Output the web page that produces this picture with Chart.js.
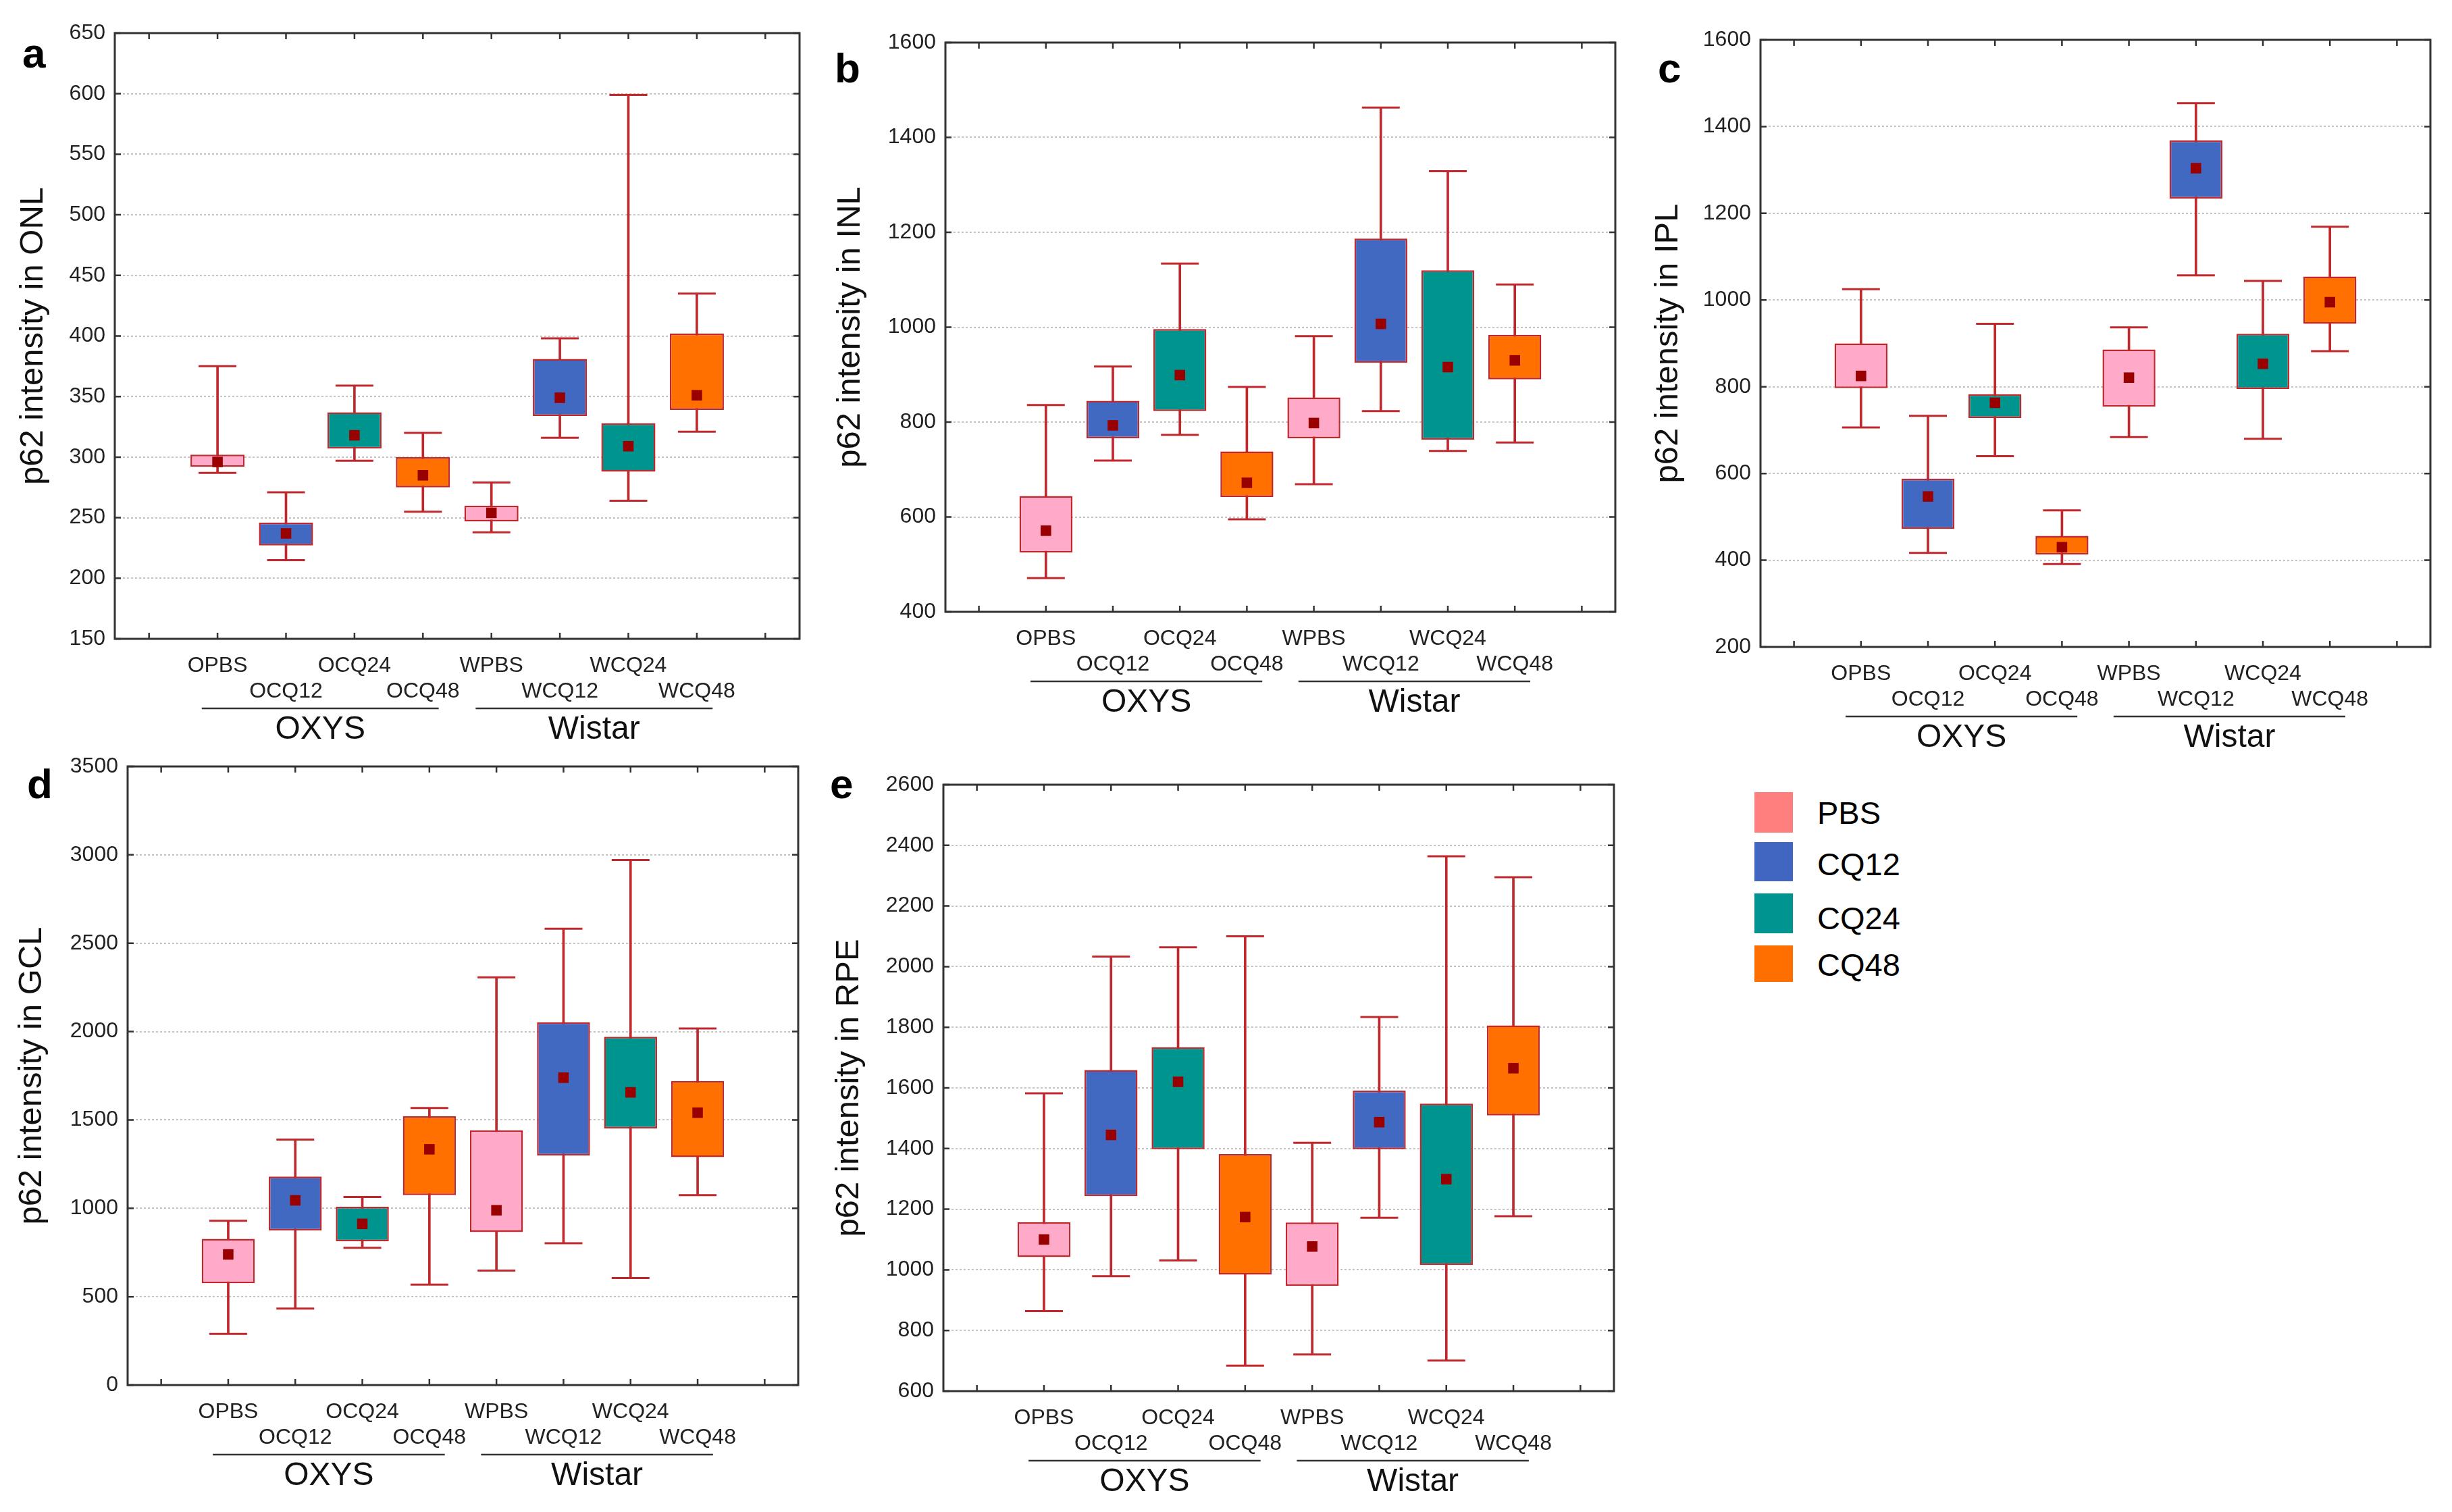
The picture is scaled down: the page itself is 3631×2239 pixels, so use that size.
<!DOCTYPE html>
<html>
<head>
<meta charset="utf-8">
<script src="https://cdn.jsdelivr.net/npm/chart.js@4.4.0/dist/chart.umd.min.js"></script>
<style>
  body { margin: 0; width: 3631px; height: 2239px; background: #fff; position: relative; overflow: hidden; font-family: 'Liberation Sans', Arial, sans-serif; }
  canvas { position: absolute; }
  .letter { position: absolute; font-weight: bold; font-size: 62px; line-height: 62px; color: #000; }
  .key { position: absolute; left: 2598px; width: 57px; }
  .keytext { position: absolute; left: 2691px; font-size: 47px; line-height: 47px; color: #000; }
</style>
</head>
<body>
<div class="letter" style="left:33px;top:48px">a</div>
<div class="letter" style="left:1236px;top:70px">b</div>
<div class="letter" style="left:2455px;top:70px">c</div>
<div class="letter" style="left:40px;top:1130px">d</div>
<div class="letter" style="left:1229px;top:1130px">e</div>

<div class="key" style="top:1173px;height:60px;background:#ff7f7f"></div>
<div class="keytext" style="top:1180px">PBS</div>
<div class="key" style="top:1247px;height:58px;background:#4166c2"></div>
<div class="keytext" style="top:1256px">CQ12</div>
<div class="key" style="top:1323px;height:59px;background:#009490"></div>
<div class="keytext" style="top:1336px">CQ24</div>
<div class="key" style="top:1400px;height:54px;background:#ff6f00"></div>
<div class="keytext" style="top:1405px">CQ48</div>

<script>
'use strict';

//---------------------- data -------------------
let groups = ['OPBS', 'OCQ12', 'OCQ24', 'OCQ48', 'WPBS', 'WCQ12', 'WCQ24', 'WCQ48'];
let strains = ['OXYS', 'Wistar'];
let treatments = ['PBS', 'CQ12', 'CQ24', 'CQ48'];

// ONL (a)
let onlMin  = [287, 215, 297, 255, 238, 316, 264, 321];
let onlQ1   = [292, 227, 307, 275, 247, 334, 288, 339];
let onlQ3   = [302, 246, 337, 300, 260, 381, 328, 402];
let onlMax  = [375, 271, 359, 320, 279, 398, 599, 435];
let onlMean = [296, 237, 318, 285, 254, 349, 309, 351];
let onlRange = [150, 650, 50];

// INL (b)
let inlMin  = [471, 719, 773, 595, 669, 823, 739, 757];
let inlQ1   = [525, 766, 823, 642, 766, 925, 763, 890];
let inlQ3   = [644, 845, 996, 738, 852, 1187, 1120, 984];
let inlMax  = [836, 917, 1134, 874, 981, 1463, 1329, 1090];
let inlMean = [571, 793, 899, 672, 798, 1007, 916, 930];
let inlRange = [400, 1600, 200];

// IPL (c)
let iplMin  = [706, 417, 640, 391, 684, 1057, 680, 882];
let iplQ1   = [797, 472, 728, 413, 754, 1234, 795, 945];
let iplQ3   = [900, 588, 783, 456, 886, 1368, 922, 1054];
let iplMax  = [1025, 733, 945, 515, 937, 1454, 1044, 1169];
let iplMean = [825, 547, 763, 430, 821, 1304, 853, 995];
let iplRange = [200, 1600, 200];

// GCL (d)
let gclMin  = [289, 433, 777, 568, 648, 802, 606, 1075];
let gclQ1   = [576, 874, 813, 1075, 865, 1298, 1452, 1290];
let gclQ3   = [827, 1180, 1009, 1521, 1441, 2053, 1971, 1720];
let gclMax  = [929, 1389, 1064, 1568, 2307, 2582, 2971, 2017];
let gclMean = [739, 1045, 912, 1334, 989, 1739, 1656, 1541];
let gclRange = [0, 3500, 500];

// RPE (e)
let rpeMin  = [864, 979, 1031, 684, 721, 1172, 701, 1177];
let rpeQ1   = [1042, 1243, 1398, 984, 947, 1398, 1016, 1509];
let rpeQ3   = [1157, 1659, 1734, 1382, 1156, 1591, 1548, 1806];
let rpeMax  = [1582, 2033, 2064, 2100, 1419, 1834, 2364, 2295];
let rpeMean = [1100, 1445, 1620, 1174, 1077, 1487, 1299, 1665];
let rpeRange = [600, 2600, 200];

//---------------------- style -------------------
let family = "'Liberation Sans', Arial, sans-serif";
let boxFill = ['#ffaac8', '#4169c1', '#00948f', '#ff7000'];
let red = '#c0282d';
let meanColor = '#990000';

// blank slot on each side, like the original axis
let slots = [''].concat(groups, ['']);
function pad(arr) {
  return [null].concat(arr, [null]);
}

let framePlugin = {
  id: 'frame',
  afterDraw(chart) {
    let ctx = chart.ctx;
    let a = chart.chartArea;
    let x = chart.scales.x;
    let y = chart.scales.y;
    ctx.save();
    ctx.strokeStyle = '#333';
    ctx.lineWidth = 3;
    ctx.strokeRect(a.left, a.top, a.right - a.left, a.bottom - a.top);
    ctx.lineWidth = 2.5;
    ctx.beginPath();
    for (let i = 0; i < y.ticks.length; i++) {
      let py = y.getPixelForTick(i);
      ctx.moveTo(a.left, py); ctx.lineTo(a.left + 9, py);
      ctx.moveTo(a.right, py); ctx.lineTo(a.right - 9, py);
    }
    for (let i = 0; i < x.ticks.length; i++) {
      let px = x.getPixelForTick(i);
      ctx.moveTo(px, a.bottom); ctx.lineTo(px, a.bottom - 9);
      ctx.moveTo(px, a.top); ctx.lineTo(px, a.top + 9);
    }
    ctx.stroke();

    // strain brackets under the labels
    let slot = x.getPixelForValue(1) - x.getPixelForValue(0);
    ctx.lineWidth = 2.5;
    ctx.fillStyle = '#111';
    ctx.font = '48px ' + family;
    ctx.textAlign = 'center';
    ctx.textBaseline = 'middle';
    for (let k = 0; k < strains.length; k++) {
      let c = (x.getPixelForValue(1 + 4 * k) + x.getPixelForValue(4 + 4 * k)) / 2;
      ctx.beginPath();
      ctx.moveTo(c - 1.73 * slot, a.bottom + 103);
      ctx.lineTo(c + 1.73 * slot, a.bottom + 103);
      ctx.stroke();
      ctx.fillText(strains[k], c, a.bottom + 135);
    }
    ctx.restore();
  }
};

function makeDatasets(mins, q1s, q3s, maxs, means) {
  let boxes = q1s.map((q, i) => [q, q3s[i]]);
  let whiskers = mins.map((m, i) => [m, maxs[i]]);
  let fills = groups.map((g, i) => boxFill[i % treatments.length]);
  return [
    { type: 'line', data: pad(means), showLine: false, pointStyle: 'rect', pointRadius: 11,
      pointBackgroundColor: meanColor, pointBorderWidth: 0, order: 0 },
    { type: 'bar', data: pad(boxes), backgroundColor: pad(fills), borderColor: red, borderWidth: 2.5,
      borderSkipped: false, grouped: false, barPercentage: 0.79, categoryPercentage: 1, order: 1 },
    { type: 'line', data: pad(maxs), showLine: false, pointStyle: 'line', pointRadius: 28,
      pointBorderColor: red, pointBorderWidth: 3, order: 2 },
    { type: 'line', data: pad(mins), showLine: false, pointStyle: 'line', pointRadius: 28,
      pointBorderColor: red, pointBorderWidth: 3, order: 2 },
    { type: 'bar', data: pad(whiskers), backgroundColor: red, barThickness: 3, grouped: false, order: 3 }
  ];
}

let panels = [
  { title: 'p62 intensity in ONL', L: 170, R: 1185, T: 49, B: 946, tx: 49, range: onlRange,
    sets: [onlMin, onlQ1, onlQ3, onlMax, onlMean] },
  { title: 'p62 intensity in INL', L: 1400, R: 2393, T: 63, B: 906, tx: 1259, range: inlRange,
    sets: [inlMin, inlQ1, inlQ3, inlMax, inlMean] },
  { title: 'p62 intensity in IPL', L: 2607, R: 3600, T: 59, B: 958, tx: 2470, range: iplRange,
    sets: [iplMin, iplQ1, iplQ3, iplMax, iplMean] },
  { title: 'p62 intensity in GCL', L: 189, R: 1183, T: 1135, B: 2051, tx: 47, range: gclRange,
    sets: [gclMin, gclQ1, gclQ3, gclMax, gclMean] },
  { title: 'p62 intensity in RPE', L: 1397, R: 2391, T: 1162, B: 2060, tx: 1257, range: rpeRange,
    sets: [rpeMin, rpeQ1, rpeQ3, rpeMax, rpeMean] }
];

function drawPanel(p) {
  let left = p.tx - 32;
  let top = p.T - 40;
  let width = p.R + 30 - left;
  let height = p.B + 170 - top;
  let yWidth = p.L - left;

  let canvas = document.createElement('canvas');
  canvas.width = width;
  canvas.height = height;
  canvas.style.left = left + 'px';
  canvas.style.top = top + 'px';
  canvas.style.width = width + 'px';
  canvas.style.height = height + 'px';
  document.body.appendChild(canvas);

  new Chart(canvas.getContext('2d'), {
    type: 'bar',
    data: {
      labels: slots,
      datasets: makeDatasets(p.sets[0], p.sets[1], p.sets[2], p.sets[3], p.sets[4])
    },
    options: {
      responsive: false,
      animation: false,
      devicePixelRatio: 1,
      layout: { padding: { top: 40, right: 30, left: 0, bottom: 0 } },
      plugins: { legend: { display: false }, tooltip: { enabled: false } },
      scales: {
        x: {
          offset: true,
          grid: { display: false },
          border: { display: false },
          ticks: {
            autoSkip: false, maxRotation: 0, minRotation: 0, padding: 13,
            color: '#222', font: { size: 32, family: family },
            callback: (v, i) => (i % 2 === 1 ? [slots[i], ''] : ['', slots[i]])
          },
          afterFit: (s) => { s.height = 170; }
        },
        y: {
          min: p.range[0],
          max: p.range[1],
          ticks: {
            stepSize: p.range[2], padding: 14, color: '#222', font: { size: 32, family: family },
            callback: (v) => String(v)
          },
          grid: { color: '#c4c4c4', lineWidth: 2, drawTicks: false },
          border: { display: false, dash: [3, 3] },
          title: {
            display: true, text: p.title, color: '#111',
            font: { size: 49, family: family, lineHeight: 1 },
            padding: { top: 7.5, bottom: 0 }
          },
          afterFit: (s) => { s.width = yWidth; }
        }
      }
    },
    plugins: [framePlugin]
  });
}

panels.forEach(drawPanel);
</script>
</body>
</html>
